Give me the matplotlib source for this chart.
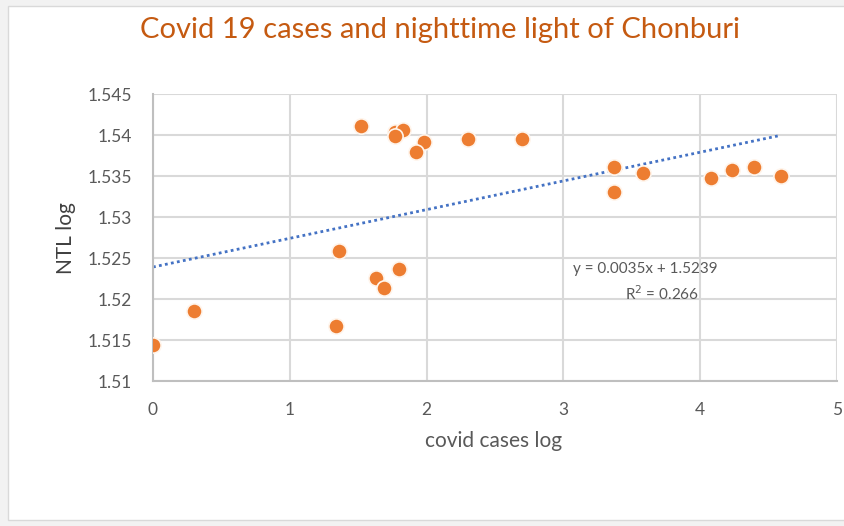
import matplotlib
matplotlib.use("Agg")
from matplotlib import pyplot as plt
from matplotlib.patches import Rectangle
import numpy as np

plt.rcParams['font.family'] = ['Lato', 'DejaVu Sans']

# data
covid_log = [0.0, 0.30, 1.34, 1.36, 1.52, 1.77, 1.83, 1.77, 1.98, 1.92,
             2.30, 2.70, 1.63, 1.69, 1.80, 3.37, 3.37, 3.58, 4.08, 4.23,
             4.39, 4.59]
ntl_log = [1.5144, 1.5185, 1.5167, 1.5258, 1.5411, 1.5404, 1.5406, 1.5399,
           1.5391, 1.5379, 1.5395, 1.5395, 1.5226, 1.5213, 1.5237, 1.5361,
           1.5330, 1.5354, 1.5348, 1.5357, 1.5361, 1.5350]
slope, intercept = 0.0035, 1.5239
x_ticks = [0, 1, 2, 3, 4, 5]
y_ticks = [1.51, 1.515, 1.52, 1.525, 1.53, 1.535, 1.54, 1.545]
y_labels = ['1.51', '1.515', '1.52', '1.525', '1.53', '1.535', '1.54', '1.545']

fig = plt.figure(figsize=(8.44, 5.26), dpi=100)
fig.patch.set_facecolor('#f2f2f2')
frame = Rectangle((8/844, 6/526), 1.0, 1 - 12/526, transform=fig.transFigure,
                  facecolor='white', edgecolor='#d9d9d9', linewidth=1, zorder=-10)
fig.add_artist(frame)

ax = fig.add_axes([153/844, 1 - 381/526, 684/844, 287/526])
ax.set_facecolor('none')
ax.set_zorder(5)

xs = np.array([0, max(covid_log)])
ax.plot(xs, slope * xs + intercept, color='#4472c4', linewidth=2, linestyle=(0, (1, 1.2)), zorder=2)
ax.scatter(covid_log, ntl_log, s=120, color='#ed7d31', edgecolors='#fff5ec', linewidths=1.2, zorder=3)

ax.set_xlim(0, 5)
ax.set_ylim(1.51, 1.545)
ax.set_xticks(x_ticks)
ax.set_yticks(y_ticks)
ax.set_yticklabels(y_labels)
ax.grid(True, color='#d9d9d9', linewidth=1.5)
ax.set_axisbelow(True)
ax.tick_params(length=0, colors='#595959', labelsize=12.5)
ax.tick_params(axis='x', pad=15)
ax.tick_params(axis='y', pad=15)
for s in ['top', 'right']:
    ax.spines[s].set_visible(False)
for s in ['left', 'bottom']:
    ax.spines[s].set_color('#bfbfbf')
    ax.spines[s].set_linewidth(1.5)

ax.text(3.6, 1.5236, 'y = 0.0035x + 1.5239', ha='center', va='center', fontsize=11, color='#595959')
ax.text(3.72, 1.5207, 'R$^2$ = 0.266', ha='center', va='center', fontsize=11, color='#595959')

fig.text(440/844, 1 - 30/526, 'Covid 19 cases and nighttime light of Chonburi',
         ha='center', va='center', fontsize=21, color='#c55a11')
fig.text(494/844, 1 - 441/526, 'covid cases log', ha='center', va='center', fontsize=15, color='#595959')
fig.text(66/844, 1 - 238/526, 'NTL log', ha='center', va='center', rotation=90, fontsize=15, color='#404040')

plt.savefig('out.png', dpi=100)
